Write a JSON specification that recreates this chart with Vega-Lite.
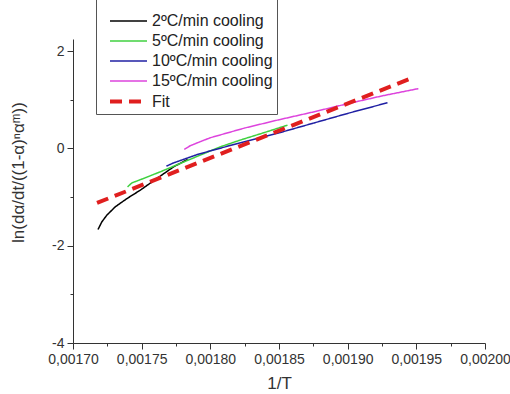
{
  "$schema": "https://vega.github.io/schema/vega-lite/v6.json",
  "autosize": "none",
  "width": 412,
  "height": 304,
  "padding": {"left": 73, "top": 39, "right": 25, "bottom": 51},
  "background": "white",
  "config": {
    "view": {"stroke": null},
    "font": "Liberation Sans"
  },
  "data": {
    "values": [
      {"s": "2ºC/min cooling", "x": 0.0017182, "y": -1.667},
      {"s": "2ºC/min cooling", "x": 0.0017210, "y": -1.51},
      {"s": "2ºC/min cooling", "x": 0.0017247, "y": -1.37},
      {"s": "2ºC/min cooling", "x": 0.0017308, "y": -1.20},
      {"s": "2ºC/min cooling", "x": 0.0017393, "y": -1.03},
      {"s": "2ºC/min cooling", "x": 0.0017490, "y": -0.858},
      {"s": "2ºC/min cooling", "x": 0.0017611, "y": -0.617},
      {"s": "2ºC/min cooling", "x": 0.0017732, "y": -0.379},
      {"s": "2ºC/min cooling", "x": 0.0017834, "y": -0.226},
      {"s": "5ºC/min cooling", "x": 0.0017397, "y": -0.790},
      {"s": "5ºC/min cooling", "x": 0.0017429, "y": -0.708},
      {"s": "5ºC/min cooling", "x": 0.0017514, "y": -0.617},
      {"s": "5ºC/min cooling", "x": 0.0017635, "y": -0.481},
      {"s": "5ºC/min cooling", "x": 0.0017781, "y": -0.309},
      {"s": "5ºC/min cooling", "x": 0.0017926, "y": -0.138},
      {"s": "5ºC/min cooling", "x": 0.0018072, "y": 0.033},
      {"s": "5ºC/min cooling", "x": 0.0018217, "y": 0.171},
      {"s": "5ºC/min cooling", "x": 0.0018387, "y": 0.321},
      {"s": "5ºC/min cooling", "x": 0.0018562, "y": 0.479},
      {"s": "10ºC/min cooling", "x": 0.001768, "y": -0.364},
      {"s": "10ºC/min cooling", "x": 0.001773, "y": -0.30},
      {"s": "10ºC/min cooling", "x": 0.001780, "y": -0.23},
      {"s": "10ºC/min cooling", "x": 0.001790, "y": -0.13},
      {"s": "10ºC/min cooling", "x": 0.001800, "y": -0.05},
      {"s": "10ºC/min cooling", "x": 0.001825, "y": 0.14},
      {"s": "10ºC/min cooling", "x": 0.001850, "y": 0.32},
      {"s": "10ºC/min cooling", "x": 0.001875, "y": 0.52},
      {"s": "10ºC/min cooling", "x": 0.001900, "y": 0.72},
      {"s": "10ºC/min cooling", "x": 0.001929, "y": 0.94},
      {"s": "15ºC/min cooling", "x": 0.001781, "y": -0.02},
      {"s": "15ºC/min cooling", "x": 0.001785, "y": 0.05},
      {"s": "15ºC/min cooling", "x": 0.001790, "y": 0.11},
      {"s": "15ºC/min cooling", "x": 0.001800, "y": 0.22},
      {"s": "15ºC/min cooling", "x": 0.001825, "y": 0.42},
      {"s": "15ºC/min cooling", "x": 0.001850, "y": 0.59},
      {"s": "15ºC/min cooling", "x": 0.001875, "y": 0.75},
      {"s": "15ºC/min cooling", "x": 0.001900, "y": 0.92},
      {"s": "15ºC/min cooling", "x": 0.001925, "y": 1.08},
      {"s": "15ºC/min cooling", "x": 0.0019515, "y": 1.23},
      {"s": "Fit", "x": 0.0017175, "y": -1.12},
      {"s": "Fit", "x": 0.0019478, "y": 1.46}
    ]
  },
  "mark": {"type": "line", "clip": false},
  "encoding": {
    "x": {
      "field": "x", "type": "quantitative",
      "scale": {"domain": [0.0017, 0.002], "nice": false, "zero": false},
      "axis": {
        "title": "1/T",
        "values": [0.0017, 0.001725, 0.00175, 0.001775, 0.0018, 0.001825, 0.00185, 0.001875, 0.0019, 0.001925, 0.00195, 0.001975, 0.002],
        "labelExpr": "round(datum.value*40000) % 2 === 0 ? replace(format(datum.value, '.5f'), '.', ',') : ''",
        "tickSize": {"condition": {"test": "round(datum.value*40000) % 2 === 0", "value": 6}, "value": 3},
        "grid": false,
        "domainColor": "#333",
        "tickColor": "#333",
        "labelColor": "#333",
        "labelFontSize": 14,
        "labelPadding": 3,
        "labelFlush": false,
        "labelOverlap": false,
        "titleFontSize": 17,
        "titleFontWeight": "normal",
        "titleColor": "#333",
        "titlePadding": 9
      }
    },
    "y": {
      "field": "y", "type": "quantitative",
      "scale": {"domain": [-4, 2.25], "nice": false, "zero": false},
      "axis": {
        "title": "ln(dα/dt/((1-α)ⁿαᵐ))",
        "values": [-4, -3, -2, -1, 0, 1, 2],
        "labelExpr": "datum.value % 2 === 0 ? '' + datum.value : ''",
        "tickSize": {"condition": {"test": "datum.value % 2 === 0", "value": 6}, "value": 3},
        "grid": false,
        "domainColor": "#333",
        "tickColor": "#333",
        "labelColor": "#333",
        "labelFontSize": 14,
        "labelPadding": 3,
        "labelFlush": false,
        "labelOverlap": false,
        "titleFontSize": 17,
        "titleFontWeight": "normal",
        "titleColor": "#333",
        "titleX": -55,
        "titleY": 133,
        "titleAlign": "center",
        "titleBaseline": "middle"
      }
    },
    "color": {
      "field": "s", "type": "nominal",
      "scale": {
        "domain": ["2ºC/min cooling", "5ºC/min cooling", "10ºC/min cooling", "15ºC/min cooling", "Fit"],
        "range": ["#000000", "#3fd13f", "#1f1fa3", "#dd44dd", "#e01f1f"]
      },
      "legend": {
        "title": " ",
        "titleFontSize": 16,
        "titlePadding": 0,
        "orient": "none",
        "legendX": 23,
        "legendY": -46,
        "symbolType": "M-3,0H3",
        "symbolSize": 152,
        "symbolOffset": 20,
        "labelOffset": 15,
        "labelFontSize": 16,
        "labelColor": "#222",
        "rowPadding": 4,
        "padding": 4,
        "strokeColor": "#555",
        "fillColor": "white"
      }
    },
    "strokeDash": {
      "field": "s", "type": "nominal",
      "scale": {
        "domain": ["2ºC/min cooling", "5ºC/min cooling", "10ºC/min cooling", "15ºC/min cooling", "Fit"],
        "range": [[1, 0], [1, 0], [1, 0], [1, 0], [12, 7]]
      }
    },
    "strokeWidth": {
      "field": "s", "type": "nominal",
      "scale": {
        "type": "ordinal",
        "domain": ["2ºC/min cooling", "5ºC/min cooling", "10ºC/min cooling", "15ºC/min cooling", "Fit"],
        "range": [1.5, 1.5, 1.5, 1.5, 4]
      }
    },
    "order": {"field": "x", "type": "quantitative"}
  }
}
